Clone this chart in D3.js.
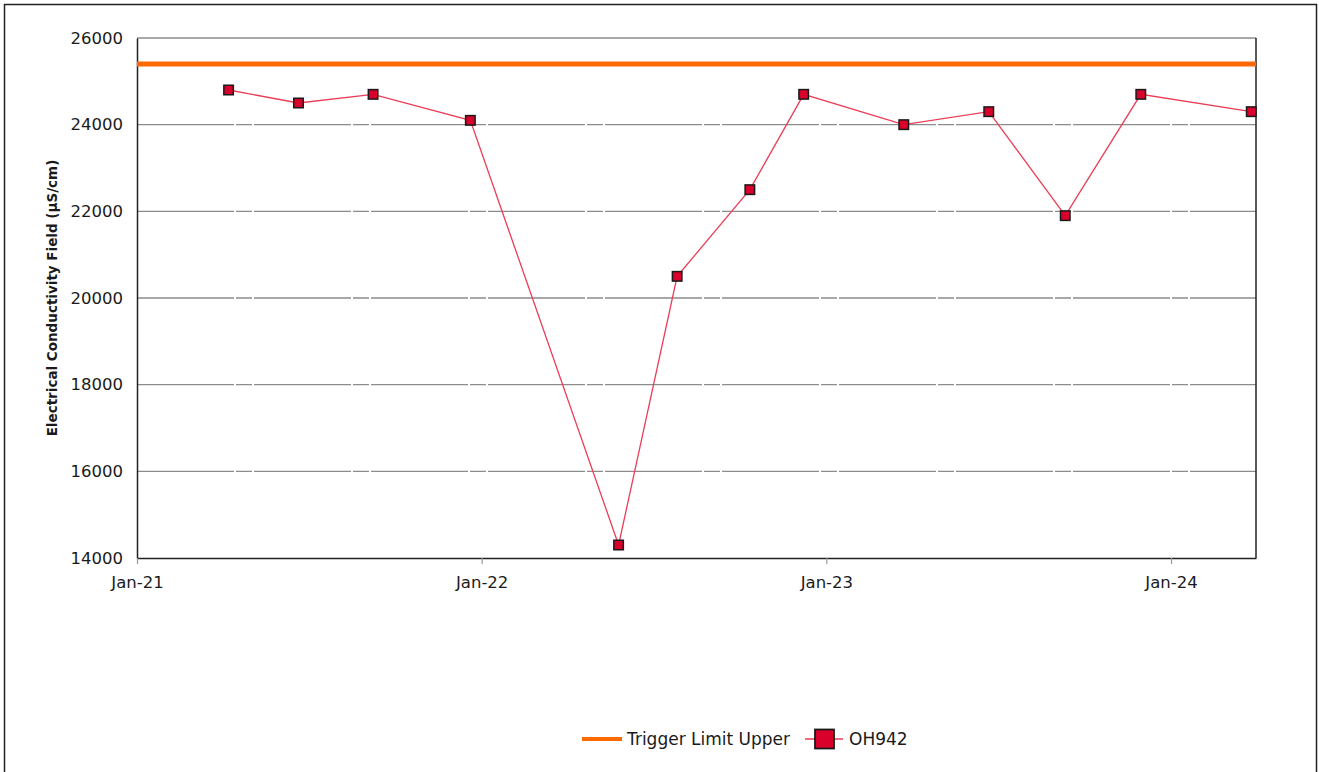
<!DOCTYPE html>
<html>
<head>
<meta charset="utf-8">
<script src="https://cdn.jsdelivr.net/npm/d3@7"></script>
<style>
  html, body { margin: 0; padding: 0; background: #fff; }
  svg { display: block; }
  text { font-family: "DejaVu Sans", Verdana, sans-serif; fill: #1a1a1a; }
</style>
</head>
<body>
<svg id="chart" width="1319" height="772"></svg>
<script>
// Sample dates and field electrical conductivity readings for bore OH942
const sampleDates = [
  "2021-04-08", "2021-06-21", "2021-09-08", "2021-12-20",
  "2022-05-26", "2022-07-27", "2022-10-12", "2022-12-08",
  "2023-03-24", "2023-06-22", "2023-09-11", "2023-11-30",
  "2024-03-26"
];
const ecValues = [
  24800, 24500, 24700, 24100,
  14300, 20500, 22500, 24700,
  24000, 24300, 21900, 24700,
  24300
];
const triggerLimitUpper = 25400;

const yTicks = [14000, 16000, 18000, 20000, 22000, 24000, 26000];
const xTickDates = ["2021-01-01", "2022-01-01", "2023-01-01", "2024-01-01"];
const xTickLabels = ["Jan-21", "Jan-22", "Jan-23", "Jan-24"];
const seriesName = "OH942";
const triggerName = "Trigger Limit Upper";
const yTitle = "Electrical Conductivity Field (µS/cm)";

const parse = d3.utcParse("%Y-%m-%d");
const points = sampleDates.map((d, i) => ({ date: parse(d), value: ecValues[i] }));

const svg = d3.select("#chart");
const margin = { left: 137, right: 1256, top: 38, bottom: 558 };

const x = d3.scaleUtc()
  .domain([parse("2021-01-01"), parse("2024-03-31")])
  .range([margin.left, margin.right]);
const y = d3.scaleLinear()
  .domain([14000, 26000])
  .range([margin.bottom, margin.top]);

// outer frame
svg.append("rect")
  .attr("x", 4.5).attr("y", 4.5)
  .attr("width", 1312).attr("height", 800)
  .attr("fill", "none").attr("stroke", "#222").attr("stroke-width", 1.5);

// horizontal grid lines
svg.append("g")
  .selectAll("line")
  .data(yTicks.filter(t => t > 14000 && t < 26000))
  .join("line")
  .attr("x1", margin.left).attr("x2", margin.right)
  .attr("y1", d => y(d)).attr("y2", d => y(d))
  .attr("stroke", "#8c8c8c").attr("stroke-width", 1.3)
  .attr("stroke-dasharray", "97,2,16,2");

// top edge of plot area
svg.append("line")
  .attr("x1", margin.left).attr("x2", margin.right)
  .attr("y1", margin.top).attr("y2", margin.top)
  .attr("stroke", "#8c8c8c").attr("stroke-width", 1.3);

// y axis
const yAxis = d3.axisLeft(y).tickValues(yTicks).tickSize(0).tickPadding(14)
  .tickFormat(d3.format("d"));
const gy = svg.append("g").attr("transform", `translate(${margin.left},0)`).call(yAxis);
gy.select(".domain").attr("stroke", "#222").attr("stroke-width", 1.5);
gy.selectAll("text").style("font-size", "16.5px").attr("fill", "#1a1a1a");

// x axis
const xAxis = d3.axisBottom(x)
  .tickValues(xTickDates.map(parse))
  .tickFormat((d, i) => xTickLabels[i])
  .tickSize(6).tickSizeOuter(0).tickPadding(12);
const gx = svg.append("g").attr("transform", `translate(0,${margin.bottom})`).call(xAxis);
gx.select(".domain").attr("stroke", "#222").attr("stroke-width", 1.5);
gx.selectAll(".tick line").attr("stroke", "#999").attr("stroke-width", 1.2);
gx.selectAll("text").style("font-size", "16.5px").attr("fill", "#1a1a1a");

// right edge of plot area
svg.append("line")
  .attr("x1", margin.right).attr("x2", margin.right)
  .attr("y1", margin.top).attr("y2", margin.bottom)
  .attr("stroke", "#222").attr("stroke-width", 1.5);

// y axis title
svg.append("text")
  .attr("transform", `translate(57,${(margin.top + margin.bottom) / 2}) rotate(-90)`)
  .attr("text-anchor", "middle")
  .style("font-size", "13.5px").style("font-weight", "bold")
  .text(yTitle);

// trigger limit
svg.append("line")
  .attr("x1", margin.left).attr("x2", margin.right)
  .attr("y1", y(triggerLimitUpper)).attr("y2", y(triggerLimitUpper))
  .attr("stroke", "#ff6a00").attr("stroke-width", 5);

// series line
const line = d3.line().x(d => x(d.date)).y(d => y(d.value));
svg.append("path")
  .datum(points)
  .attr("d", line)
  .attr("fill", "none")
  .attr("stroke", "#eb3d57").attr("stroke-width", 1.3);

// series markers
const ms = 9.5;
svg.append("g")
  .selectAll("rect")
  .data(points)
  .join("rect")
  .attr("x", d => x(d.date) - ms / 2)
  .attr("y", d => y(d.value) - ms / 2)
  .attr("width", ms).attr("height", ms)
  .attr("fill", "#d9002b").attr("stroke", "#1a1a1a").attr("stroke-width", 1.5);

// legend
const lg = svg.append("g");
lg.append("line").attr("x1", 582).attr("x2", 622).attr("y1", 739).attr("y2", 739)
  .attr("stroke", "#ff6a00").attr("stroke-width", 4);
lg.append("text").attr("x", 627).attr("y", 745).style("font-size", "17px").text(triggerName);
lg.append("line").attr("x1", 805).attr("x2", 843).attr("y1", 739).attr("y2", 739)
  .attr("stroke", "#eb3d57").attr("stroke-width", 1.5);
lg.append("rect").attr("x", 815).attr("y", 729.5).attr("width", 19).attr("height", 19)
  .attr("fill", "#d9002b").attr("stroke", "#1a1a1a").attr("stroke-width", 1.8);
lg.append("text").attr("x", 849).attr("y", 745).style("font-size", "17px").text(seriesName);
</script>
</body>
</html>
